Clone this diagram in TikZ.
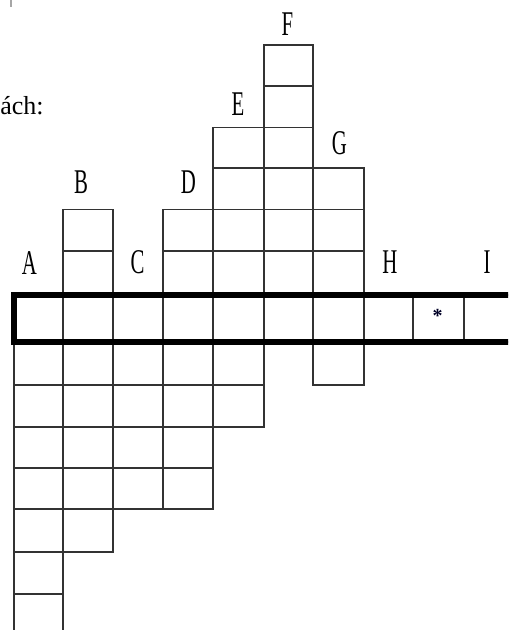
\documentclass[tikz,border=0pt]{standalone}
\usepackage{fontspec}
\setmainfont{Liberation Serif}
\begin{document}
\begin{tikzpicture}[x=0.75pt,y=-0.75pt,
  thin grid/.style={draw=black!80,line width=1.1pt},
  thick frame/.style={draw=black,line width=4.2pt},
  letter/.style={inner sep=0pt,font=\fontsize{26}{26}\selectfont},
  ]
\useasboundingbox (0,0) rectangle (508,630);
\begin{scope}
\clip (0,0) rectangle (508,630);
% column A
\draw[thin grid] (14,295) rectangle (63,640);
\foreach \h in {342,385,427,468,509,552,594} \draw[thin grid] (14,\h) -- (63,\h);
% column B
\draw[thin grid] (63,209.5) rectangle (113,552);
\foreach \h in {251,295,342,385,427,468,509} \draw[thin grid] (63,\h) -- (113,\h);
% column C
\draw[thin grid] (113,295) rectangle (163,509);
\foreach \h in {342,385,427,468} \draw[thin grid] (113,\h) -- (163,\h);
% column D
\draw[thin grid] (163,209.5) rectangle (213,509);
\foreach \h in {251,295,342,385,427,468} \draw[thin grid] (163,\h) -- (213,\h);
% column E
\draw[thin grid] (213,127.5) rectangle (264,427);
\foreach \h in {168,209.5,251,295,342,385} \draw[thin grid] (213,\h) -- (264,\h);
% column F
\draw[thin grid] (264,45) rectangle (313,342);
\foreach \h in {86,127.5,168,209.5,251,295} \draw[thin grid] (264,\h) -- (313,\h);
% column G
\draw[thin grid] (313,168) rectangle (364,385);
\foreach \h in {209.5,251,295,342} \draw[thin grid] (313,\h) -- (364,\h);
% columns H, *, I
\draw[thin grid] (364,295) rectangle (413,342);
\draw[thin grid] (413,295) rectangle (464,342);
\draw[thin grid] (464,295) rectangle (530,342);
% highlighted row
\draw[thick frame] (530,295) -- (14,295) -- (14,342) -- (530,342);
\end{scope}
% labels
\node[letter] (la) at (29.5,263.5) {\scalebox{0.6}[1]{A}};
\node[letter] (lb) at (81,182) {\scalebox{0.6}[1]{B}};
\node[letter] (lc) at (137.5,262.5) {\scalebox{0.6}[1]{C}};
\node[letter] (ld) at (188.5,182) {\scalebox{0.6}[1]{D}};
\node[letter] (le) at (238,104.5) {\scalebox{0.6}[1]{E}};
\node[letter] (lf) at (287.5,24) {\scalebox{0.6}[1]{F}};
\node[letter] (lg) at (339.5,143.5) {\scalebox{0.6}[1]{G}};
\node[letter] (lh) at (390,262) {\scalebox{0.6}[1]{H}};
\node[letter] (li) at (487,262) {\scalebox{0.6}[1]{I}};
% star
\node[inner sep=0pt,font=\bfseries\fontsize{15}{15}\selectfont,text=blue!15!black] (star) at (437.5,316) {*};
% partial text
\node[inner sep=0pt,anchor=base west,font=\fontsize{19.5}{19.5}\selectfont] (txt) at (0,115) {ách:};
% small tick mark at top left
\draw[black!35,line width=1.5pt] (10.5,0) -- (10.5,7);
\end{tikzpicture}
\end{document}
